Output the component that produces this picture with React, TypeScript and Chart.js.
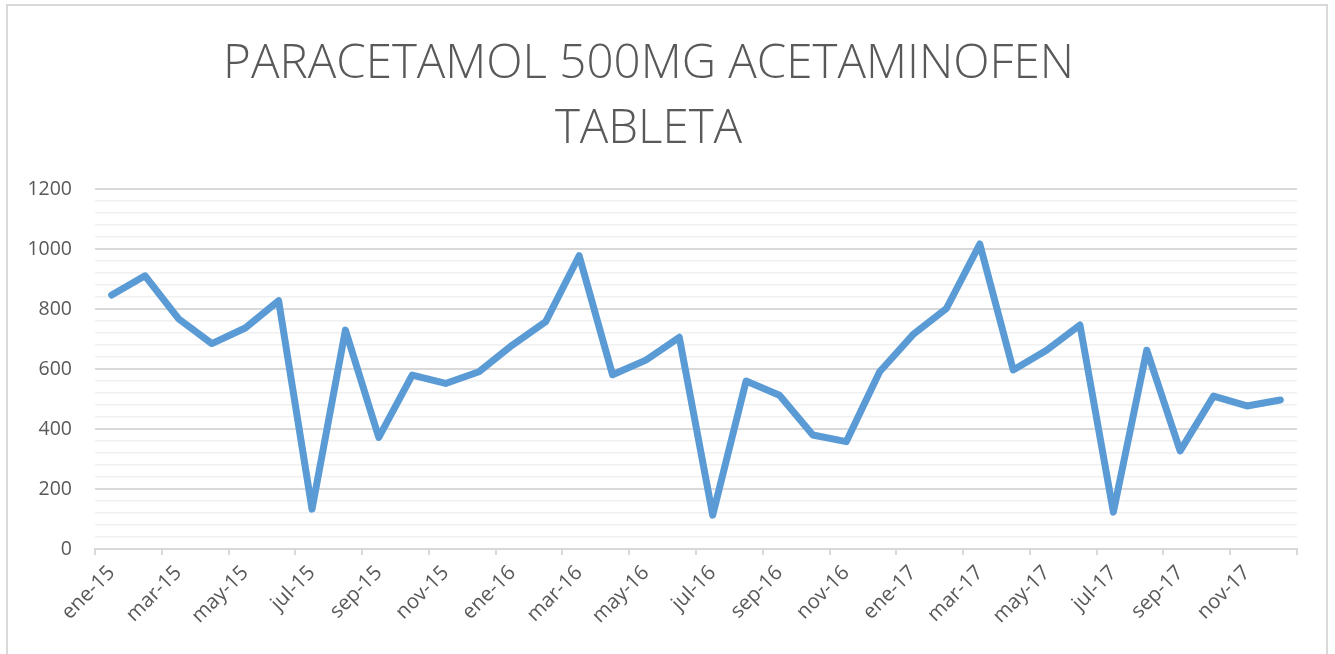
import React, { useEffect, useRef } from "react";
import { Chart, registerables } from "chart.js";

Chart.register(...registerables);

const months = ["ene", "feb", "mar", "abr", "may", "jun", "jul", "ago", "sep", "oct", "nov", "dic"];
const years = ["15", "16", "17"];
const categories: string[] = years.flatMap((y) => months.map((m) => `${m}-${y}`));

const values = [
  847, 911, 768, 685, 737, 828, 133, 730, 372, 580, 552, 591,
  680, 758, 978, 581, 630, 706, 113, 560, 513, 380, 358, 591,
  715, 802, 1017, 597, 663, 747, 123, 663, 327, 510, 477, 497,
];

const titleLines = ["PARACETAMOL 500MG ACETAMINOFEN", "TABLETA"];
const yMin = 0;
const yMax = 1200;
const yMinorStep = 40;
const yMajorStep = 200;

export default function App() {
  const ref = useRef<HTMLCanvasElement | null>(null);

  useEffect(() => {
    if (!ref.current) return;
    const textColor = "#595959";
    const chart = new Chart(ref.current, {
      type: "line",
      data: {
        labels: categories,
        datasets: [
          {
            data: values,
            borderColor: "#5b9bd5",
            backgroundColor: "#5b9bd5",
            borderWidth: 7,
            pointRadius: 0,
            tension: 0,
            borderJoinStyle: "round",
            borderCapStyle: "round",
          },
        ],
      },
      options: {
        animation: false,
        responsive: false,
        maintainAspectRatio: false,
        layout: { padding: { left: 0, right: 38, top: 0, bottom: 0 } },
        plugins: {
          legend: { display: false },
          tooltip: { enabled: false },
          title: {
            display: true,
            text: titleLines,
            color: textColor,
            font: { family: "'Open Sans', sans-serif", size: 47.5, weight: "300", lineHeight: 1.37 },
            padding: { top: 32, bottom: 27 },
          },
        },
        scales: {
          x: {
            offset: true,
            grid: {
              offset: true,
              drawOnChartArea: false,
              drawTicks: true,
              tickLength: 6,
              lineWidth: 2,
              color: (ctx: any) =>
                ctx.index === undefined || ctx.index % 2 === 0 ? "#d9d9d9" : "rgba(0,0,0,0)",
            },
            border: { display: true, color: "#d9d9d9", width: 2 },
            ticks: {
              autoSkip: false,
              maxRotation: 45,
              minRotation: 45,
              padding: 6,
              color: textColor,
              font: { family: "'Open Sans', sans-serif", size: 20.5 },
              callback: (_v: any, i: number) => (i % 2 === 0 ? categories[i] : ""),
            },
            afterFit: (scale: any) => {
              scale.height = 105;
            },
          },
          y: {
            min: yMin,
            max: yMax,
            border: { display: false },
            grid: {
              drawTicks: false,
              lineWidth: (ctx: any) => (ctx.tick && ctx.tick.value % yMajorStep === 0 ? 2 : 1.5),
              color: (ctx: any) =>
                ctx.tick && ctx.tick.value % yMajorStep === 0 ? "#d9d9d9" : "#f0f0f0",
            },
            ticks: {
              stepSize: yMinorStep,
              maxTicksLimit: 100,
              autoSkip: false,
              padding: 23,
              color: textColor,
              font: { family: "'Open Sans', sans-serif", size: 19.5 },
              callback: (v: any) => (Number(v) % yMajorStep === 0 ? String(v) : ""),
            },
            afterFit: (scale: any) => {
              scale.width = 95;
            },
          },
        },
      },
    });
    return () => chart.destroy();
  }, []);

  return (
    <div style={{ position: "fixed", left: 0, top: 0, width: 1335, height: 654, background: "#fff", overflow: "hidden" }}>
      <canvas ref={ref} width={1335} height={654} style={{ position: "absolute", left: 0, top: 0 }} />
      <div
        style={{
          position: "absolute",
          left: 6,
          top: 4,
          width: 1322,
          height: 680,
          border: "2px solid #d9d9d9",
          boxSizing: "border-box",
          pointerEvents: "none",
        }}
      />
    </div>
  );
}
